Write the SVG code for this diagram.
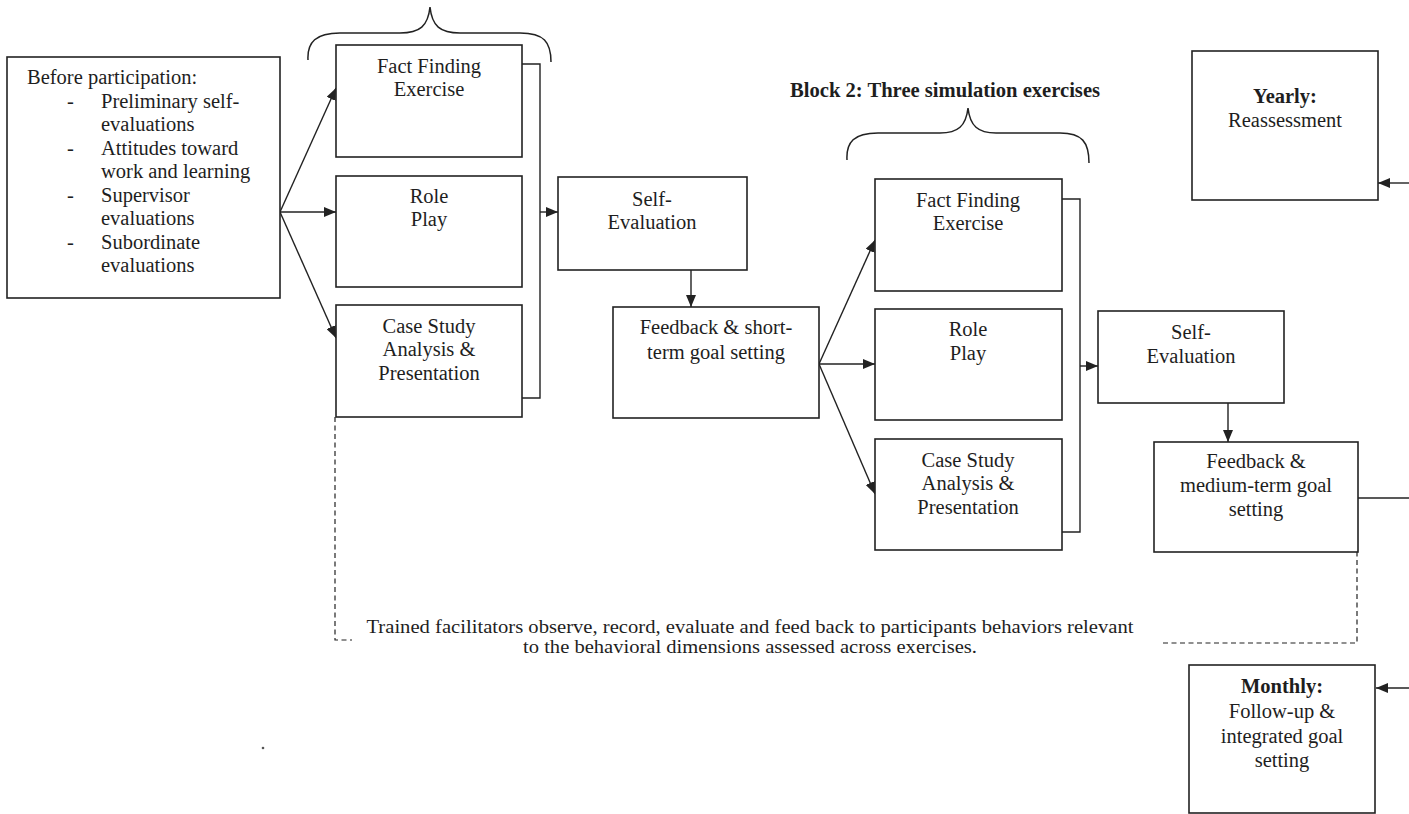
<svg xmlns="http://www.w3.org/2000/svg" width="1409" height="814" viewBox="0 0 1409 814">
  <style>
    .box { fill: #fff; stroke: #222; stroke-width: 1.6; }
    .t { font-family: "Liberation Serif", "Times New Roman", serif; font-size: 20.5px; fill: #1e1e1e; }
    .c { text-anchor: middle; }
    .b { font-weight: bold; }
    .ln { fill: none; stroke: #222; stroke-width: 1.4; }
    .dash { fill: none; stroke: #222; stroke-width: 1.2; stroke-dasharray: 5 3.5; }
    .brace { fill: none; stroke: #222; stroke-width: 1.5; }
    .note { font-size: 19.5px; }
  </style>
  <defs>
    <marker id="arrow" markerUnits="userSpaceOnUse" markerWidth="13" markerHeight="10" refX="12" refY="5" orient="auto">
      <path d="M0,0 L12,5 L0,10 z" fill="#222"/>
    </marker>
  </defs>
  <rect width="1409" height="814" fill="#fff"/>

  <!-- braces over each block of exercises -->
  <g id="brace-block1">
    <path class="brace" d="M308,60 C307,42 316,33 340,33 L400,33 C420,33 428,26 430,7 C432,26 440,33 460,33 L520,33 C544,33 551,42 551,62"/>
  </g>
  <g id="brace-block2">
    <path class="brace" d="M847,160 C846,142 854,133 878,133 L940,133 C958,133 966,126 968,108 C970,126 978,133 996,133 L1060,133 C1082,133 1089,142 1089,163"/>
  </g>

  <g id="block2-label">
    <text class="t b" x="790" y="97" style="font-size:20.6px">Block 2: Three simulation exercises</text>
  </g>

  <!-- connectors -->
  <g id="connectors">
    <line class="ln" x1="280" y1="212" x2="336" y2="88" marker-end="url(#arrow)"/>
    <line class="ln" x1="280" y1="212" x2="336" y2="212" marker-end="url(#arrow)"/>
    <line class="ln" x1="280" y1="212" x2="336" y2="338" marker-end="url(#arrow)"/>
    <polyline class="ln" points="522,64 540,64 540,398 522,398"/>
    <line class="ln" x1="540" y1="212" x2="558" y2="212" marker-end="url(#arrow)"/>
    <line class="ln" x1="691" y1="270" x2="691" y2="307" marker-end="url(#arrow)"/>
    <line class="ln" x1="819" y1="364" x2="875" y2="240" marker-end="url(#arrow)"/>
    <line class="ln" x1="819" y1="364" x2="875" y2="364" marker-end="url(#arrow)"/>
    <line class="ln" x1="819" y1="364" x2="875" y2="494" marker-end="url(#arrow)"/>
    <polyline class="ln" points="1062,199 1080,199 1080,532 1062,532"/>
    <line class="ln" x1="1080" y1="366" x2="1098" y2="366" marker-end="url(#arrow)"/>
    <line class="ln" x1="1228" y1="403" x2="1228" y2="442" marker-end="url(#arrow)"/>
    <line class="ln" x1="1358" y1="498" x2="1409" y2="498"/>
    <line class="ln" x1="1409" y1="183" x2="1378" y2="183" marker-end="url(#arrow)"/>
    <line class="ln" x1="1409" y1="688" x2="1376" y2="688" marker-end="url(#arrow)"/>
    <polyline class="dash" points="335,417 335,640 352,640"/>
    <polyline class="dash" points="1163,643 1357,643 1357,552"/>
  </g>

  <g id="before-participation">
    <rect class="box" x="7" y="57" width="273" height="241"/>
    <text class="t" x="27" y="84">Before participation:</text>
    <text class="t" x="67" y="108">-</text>
    <text class="t" x="101" y="108">Preliminary self-</text>
    <text class="t" x="101" y="131">evaluations</text>
    <text class="t" x="67" y="155">-</text>
    <text class="t" x="101" y="155">Attitudes toward</text>
    <text class="t" x="101" y="178">work and learning</text>
    <text class="t" x="67" y="202">-</text>
    <text class="t" x="101" y="202">Supervisor</text>
    <text class="t" x="101" y="225">evaluations</text>
    <text class="t" x="67" y="249">-</text>
    <text class="t" x="101" y="249">Subordinate</text>
    <text class="t" x="101" y="272">evaluations</text>
  </g>

  <g id="fact-finding-1">
    <rect class="box" x="336" y="45" width="186" height="112"/>
    <text class="t c" x="429" y="73">Fact Finding</text>
    <text class="t c" x="429" y="96">Exercise</text>
  </g>
  <g id="role-play-1">
    <rect class="box" x="336" y="176" width="186" height="111"/>
    <text class="t c" x="429" y="203">Role</text>
    <text class="t c" x="429" y="226">Play</text>
  </g>
  <g id="case-study-1">
    <rect class="box" x="336" y="305" width="186" height="112"/>
    <text class="t c" x="429" y="333">Case Study</text>
    <text class="t c" x="429" y="356">Analysis &amp;</text>
    <text class="t c" x="429" y="380">Presentation</text>
  </g>

  <g id="self-evaluation-1">
    <rect class="box" x="558" y="177" width="189" height="93"/>
    <text class="t c" x="652" y="206">Self-</text>
    <text class="t c" x="652" y="229">Evaluation</text>
  </g>
  <g id="feedback-short-term">
    <rect class="box" x="613" y="307" width="206" height="111"/>
    <text class="t c" x="716" y="334">Feedback &amp; short-</text>
    <text class="t c" x="716" y="359">term goal setting</text>
  </g>

  <g id="fact-finding-2">
    <rect class="box" x="875" y="179" width="187" height="112"/>
    <text class="t c" x="968" y="207">Fact Finding</text>
    <text class="t c" x="968" y="230">Exercise</text>
  </g>
  <g id="role-play-2">
    <rect class="box" x="875" y="309" width="187" height="111"/>
    <text class="t c" x="968" y="336">Role</text>
    <text class="t c" x="968" y="360">Play</text>
  </g>
  <g id="case-study-2">
    <rect class="box" x="875" y="439" width="187" height="111"/>
    <text class="t c" x="968" y="467">Case Study</text>
    <text class="t c" x="968" y="490">Analysis &amp;</text>
    <text class="t c" x="968" y="514">Presentation</text>
  </g>

  <g id="self-evaluation-2">
    <rect class="box" x="1098" y="311" width="186" height="92"/>
    <text class="t c" x="1191" y="339">Self-</text>
    <text class="t c" x="1191" y="363">Evaluation</text>
  </g>
  <g id="feedback-medium-term">
    <rect class="box" x="1154" y="442" width="204" height="110"/>
    <text class="t c" x="1256" y="468">Feedback &amp;</text>
    <text class="t c" x="1256" y="492">medium-term goal</text>
    <text class="t c" x="1256" y="516">setting</text>
  </g>

  <g id="yearly">
    <rect class="box" x="1192" y="51" width="186" height="149"/>
    <text class="t c b" x="1285" y="103">Yearly:</text>
    <text class="t c" x="1285" y="127">Reassessment</text>
  </g>
  <g id="monthly">
    <rect class="box" x="1189" y="665" width="186" height="148"/>
    <text class="t c b" x="1282" y="693">Monthly:</text>
    <text class="t c" x="1282" y="718">Follow-up &amp;</text>
    <text class="t c" x="1282" y="743">integrated goal</text>
    <text class="t c" x="1282" y="767">setting</text>
  </g>

  <g id="facilitators-note">
    <text class="t c note" x="750" y="633" textLength="767" lengthAdjust="spacingAndGlyphs">Trained facilitators observe, record, evaluate and feed back to participants behaviors relevant</text>
    <text class="t c note" x="750" y="653" textLength="454" lengthAdjust="spacingAndGlyphs">to the behavioral dimensions assessed across exercises.</text>
  </g>

  <circle cx="263" cy="748" r="1.3" fill="#555"/>
</svg>
